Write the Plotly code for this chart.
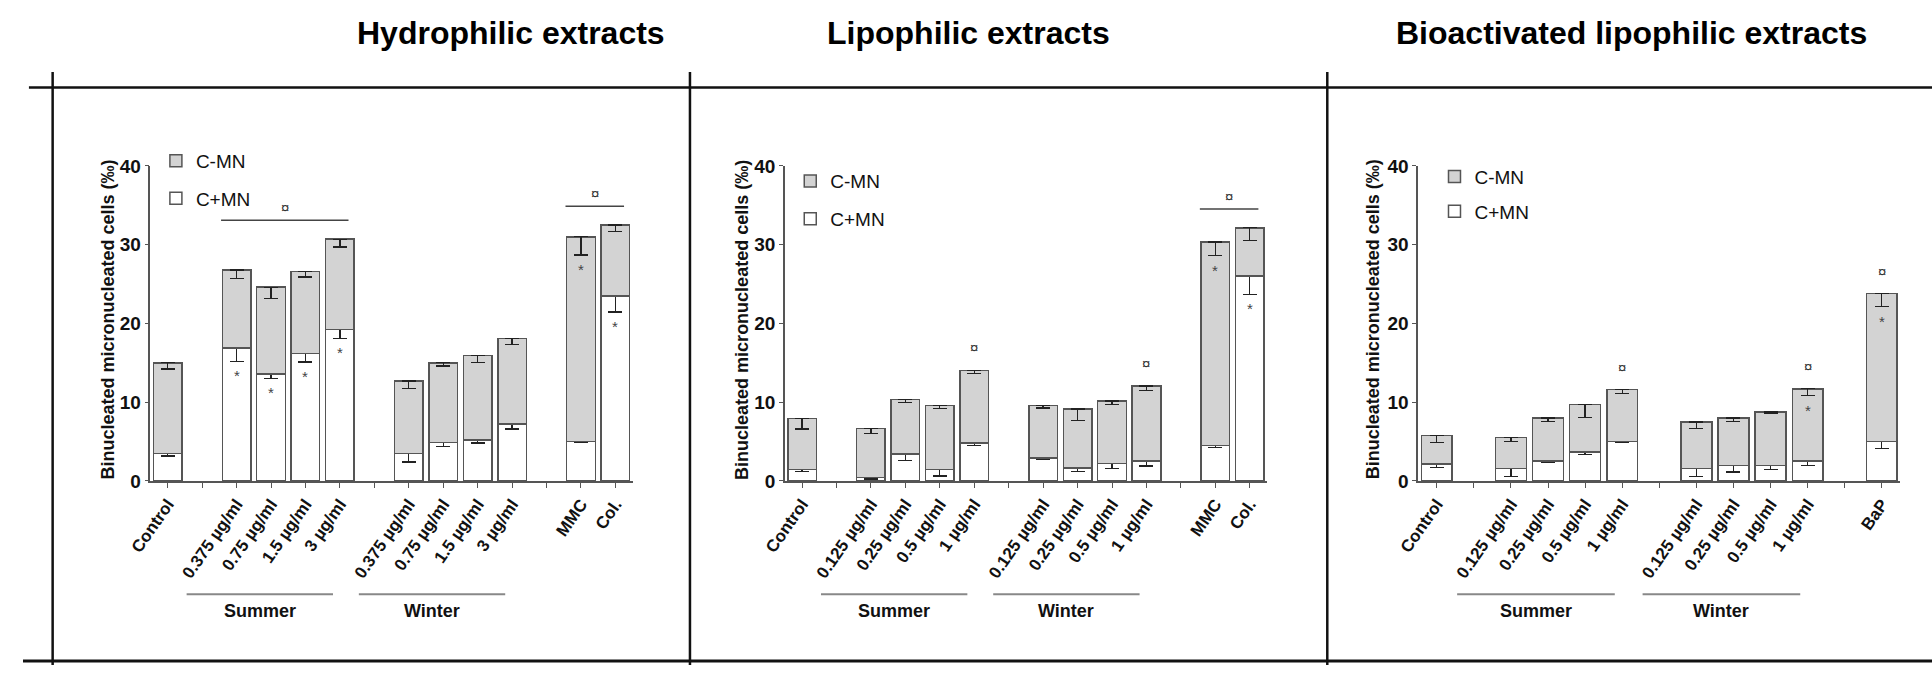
import plotly.graph_objects as go

FONT = "Liberation Sans, Arial, sans-serif"
W, H = 1932, 676

# ---------------- data ----------------
# Panel 1: Hydrophilic extracts
p1_control = ["Control"]
p1_summer = ["0.375 µg/ml", "0.75 µg/ml", "1.5 µg/ml", "3 µg/ml"]
p1_winter = ["0.375 µg/ml", "0.75 µg/ml", "1.5 µg/ml", "3 µg/ml"]
p1_positive = ["MMC", "Col."]
p1_cplus = [3.5, 16.9, 13.6, 16.2, 19.2, 3.5, 4.9, 5.2, 7.2, 5.0, 23.5]
p1_cplus_err = [0.33, 1.7, 0.55, 1.1, 1.1, 1.1, 0.5, 0.37, 0.6, 0.16, 2.05]
p1_cminus = [11.5, 9.9, 11.0, 10.4, 11.5, 9.2, 10.1, 10.7, 10.9, 26.0, 9.0]
p1_cminus_err = [0.8, 1.1, 1.45, 0.7, 1.0, 1.0, 0.4, 0.9, 0.8, 2.3, 0.8]
p1_star_plus = [0, 1, 1, 1, 1, 0, 0, 0, 0, 0, 1]
p1_star_total = [0, 0, 0, 0, 0, 0, 0, 0, 0, 1, 0]
p1_mark = [0, 0, 0, 0, 0, 0, 0, 0, 0, 0, 0]
p1_brackets = [(1, 4), (9, 10)]

# Panel 2: Lipophilic extracts
p2_control = ["Control"]
p2_summer = ["0.125 µg/ml", "0.25 µg/ml", "0.5 µg/ml", "1 µg/ml"]
p2_winter = ["0.125 µg/ml", "0.25 µg/ml", "0.5 µg/ml", "1 µg/ml"]
p2_positive = ["MMC", "Col."]
p2_cplus = [1.45, 0.4, 3.4, 1.45, 4.8, 2.9, 1.65, 2.2, 2.5, 4.5, 26.0]
p2_cplus_err = [0.29, 0.16, 0.82, 0.82, 0.29, 0.21, 0.49, 0.62, 0.62, 0.29, 2.3]
p2_cminus = [6.45, 6.25, 6.95, 8.15, 9.25, 6.65, 7.5, 7.95, 9.55, 25.85, 6.15]
p2_cminus_err = [1.3, 0.62, 0.37, 0.37, 0.45, 0.29, 1.44, 0.49, 0.53, 1.76, 1.64]
p2_star_plus = [0, 0, 0, 0, 0, 0, 0, 0, 0, 0, 1]
p2_star_total = [0, 0, 0, 0, 0, 0, 0, 0, 0, 1, 0]
p2_mark = [0, 0, 0, 0, 1, 0, 0, 0, 1, 0, 0]
p2_brackets = [(9, 10)]

# Panel 3: Bioactivated lipophilic extracts
p3_control = ["Control"]
p3_summer = ["0.125 µg/ml", "0.25 µg/ml", "0.5 µg/ml", "1 µg/ml"]
p3_winter = ["0.125 µg/ml", "0.25 µg/ml", "0.5 µg/ml", "1 µg/ml"]
p3_positive = ["BaP"]
p3_cplus = [2.15, 1.55, 2.5, 3.7, 5.0, 1.55, 1.95, 1.95, 2.5, 5.0]
p3_cplus_err = [0.41, 0.95, 0.2, 0.37, 0.16, 0.95, 0.82, 0.49, 0.53, 0.86]
p3_cminus = [3.6, 3.95, 5.5, 6.0, 6.6, 5.95, 6.05, 6.8, 9.2, 18.8]
p3_cminus_err = [0.9, 0.53, 0.49, 1.68, 0.53, 0.82, 0.49, 0.2, 0.86, 1.68]
p3_star_plus = [0, 0, 0, 0, 0, 0, 0, 0, 0, 0]
p3_star_total = [0, 0, 0, 0, 0, 0, 0, 0, 1, 1]
p3_mark = [0, 0, 0, 0, 1, 0, 0, 0, 1, 1]
p3_brackets = []

group_names = [None, "Summer", "Winter", None]
titles = ["Hydrophilic extracts", "Lipophilic extracts", "Bioactivated lipophilic extracts"]
y_title = "Binucleated micronucleated cells (‰)"
series_names = ["C+MN", "C-MN"]

# ---------------- styling ----------------
GREY = "#d3d3d3"
EDGE = "#555555"
ERR = "#222222"
AXC = "#555555"

panels = [
    dict(groups=[p1_control, p1_summer, p1_winter, p1_positive], cplus=p1_cplus, cplus_err=p1_cplus_err,
         cminus=p1_cminus, cminus_err=p1_cminus_err, star_plus=p1_star_plus, star_total=p1_star_total,
         mark=p1_mark, brackets=p1_brackets,
         xdom=(129, 617), ytitle_x=86, title_x=494, legend=(134.5, 136), ggap=10),
    dict(groups=[p2_control, p2_summer, p2_winter, p2_positive], cplus=p2_cplus, cplus_err=p2_cplus_err,
         cminus=p2_cminus, cminus_err=p2_cminus_err, star_plus=p2_star_plus, star_total=p2_star_total,
         mark=p2_mark, brackets=p2_brackets,
         xdom=(771, 1259), ytitle_x=727, title_x=957, legend=(776.5, 157), ggap=10),
    dict(groups=[p3_control, p3_summer, p3_winter, p3_positive], cplus=p3_cplus, cplus_err=p3_cplus_err,
         cminus=p3_cminus, cminus_err=p3_cminus_err, star_plus=p3_star_plus, star_total=p3_star_total,
         mark=p3_mark, brackets=p3_brackets,
         xdom=(1412, 1900), ytitle_x=1366, title_x=1628, legend=(1428.5, 152.5), ggap=7),
]

Y_TOP, Y_BOT = 161, 486


def px_x(v):
    return v / W


def px_y(v):
    return 1 - v / H


def layout_positions(groups):
    xs, tickvals, ticktext, ranges = [], [], [], []
    pos = 0
    for gi, g in enumerate(groups):
        if gi > 0:
            tickvals.append(pos)
            ticktext.append("")
            pos += 1
        start = pos
        for lab in g:
            xs.append(pos)
            tickvals.append(pos)
            ticktext.append(lab)
            pos += 1
        ranges.append((start, pos - 1))
    return xs, tickvals, ticktext, ranges, pos


fig = go.Figure()
annotations = []
shapes = []
layout_axes = {}

for k, p in enumerate(panels):
    sfx = "" if k == 0 else str(k + 1)
    xa, ya = "x" + sfx, "y" + sfx
    leg = "legend" + sfx
    xs, tickvals, ticktext, ranges, ncat = layout_positions(p["groups"])
    n = len(xs)
    totals = [a + b for a, b in zip(p["cplus"], p["cminus"])]

    fig.add_trace(go.Bar(
        x=xs, y=p["cplus"], name=series_names[0], xaxis=xa, yaxis=ya, legend=leg,
        legendgroup=f"plus{k}", legendrank=2,
        marker=dict(color="white", line=dict(color=EDGE, width=1.5)),
        error_y=dict(type="data", symmetric=False, array=[0] * n, arrayminus=p["cplus_err"],
                     color=ERR, thickness=1.3, width=7),
    ))
    fig.add_trace(go.Bar(
        x=xs, y=p["cminus"], name=series_names[1], xaxis=xa, yaxis=ya, legend=leg,
        legendgroup=f"minus{k}", legendrank=1,
        marker=dict(color=GREY, line=dict(color=EDGE, width=1.5)),
        error_y=dict(type="data", symmetric=False, array=[0] * n, arrayminus=p["cminus_err"],
                     color=ERR, thickness=1.3, width=7),
    ))

    # significance stars
    for i in range(n):
        if p["star_plus"][i]:
            annotations.append(dict(x=xs[i], y=p["cplus"][i] - p["cplus_err"][i], xref=xa, yref=ya,
                                    text="*", showarrow=False, yanchor="top", yshift=-4,
                                    font=dict(family=FONT, size=15, color="#444")))
        if p["star_total"][i]:
            annotations.append(dict(x=xs[i], y=totals[i] - p["cminus_err"][i], xref=xa, yref=ya,
                                    text="*", showarrow=False, yanchor="top", yshift=-4,
                                    font=dict(family=FONT, size=15, color="#444")))
        if p["mark"][i]:
            annotations.append(dict(x=xs[i], y=totals[i], xref=xa, yref=ya,
                                    text="¤", showarrow=False, yanchor="bottom", yshift=12,
                                    font=dict(family=FONT, size=15, color="#333")))

    # brackets with ¤
    for (a, b) in p["brackets"]:
        ly = max(totals[a:b + 1]) + 2.4
        x0, x1 = xs[a] - 0.45, xs[b] + 0.25
        shapes.append(dict(type="line", xref=xa, yref=ya, x0=x0, x1=x1, y0=ly, y1=ly,
                           line=dict(color="#444", width=1.5)))
        annotations.append(dict(x=(x0 + x1) / 2, y=ly, xref=xa, yref=ya, text="¤", showarrow=False,
                                yanchor="bottom", yshift=2, font=dict(family=FONT, size=15, color="#333")))

    # Summer / Winter group underlines
    for (g0, g1), gname in zip(ranges, group_names):
        if gname is None:
            continue
        x0, x1 = g0 - 1.45, g1 - 0.2
        shapes.append(dict(type="line", xref=xa, yref="paper", x0=x0, x1=x1,
                           y0=px_y(603), y1=px_y(603), line=dict(color="#888", width=2)))
        annotations.append(dict(x=(x0 + x1) / 2, y=px_y(620), xref=xa, yref="paper", text=gname,
                                showarrow=False, yanchor="middle",
                                font=dict(family=FONT, size=18, color="#111", weight="bold")))

    # axis title
    annotations.append(dict(x=px_x(p["ytitle_x"]), y=px_y((Y_TOP + Y_BOT) / 2 - 4), xref="paper", yref="paper",
                            text=y_title, textangle=-90, showarrow=False, xanchor="center", yanchor="middle",
                            font=dict(family=FONT, size=18, color="#111", weight="bold")))
    # panel title
    annotations.append(dict(x=px_x(p["title_x"]), y=px_y(24), xref="paper", yref="paper", text=titles[k],
                            showarrow=False, xanchor="center", yanchor="middle",
                            font=dict(family=FONT, size=32, color="#000", weight="bold")))

    layout_axes["xaxis" + sfx] = dict(
        domain=[px_x(p["xdom"][0]), px_x(p["xdom"][1])], anchor=ya, range=[-0.5, ncat - 0.5],
        tickmode="array", tickvals=tickvals, ticktext=ticktext, tickangle=-55,
        showline=True, linecolor=AXC, linewidth=1.5, ticks="outside", ticklen=5, tickwidth=1.2,
        tickcolor=AXC, showgrid=False, zeroline=False,
        tickfont=dict(family=FONT, size=17, color="#111", weight="bold"),
    )
    layout_axes["yaxis" + sfx] = dict(
        domain=[px_y(Y_BOT), px_y(Y_TOP)], anchor=xa, range=[0, 40], tickvals=[0, 10, 20, 30, 40],
        showline=True, linecolor=AXC, linewidth=1.5, ticks="outside", ticklen=4, tickwidth=1.2,
        tickcolor=AXC, showgrid=False, zeroline=False,
        tickfont=dict(family=FONT, size=19, color="#111", weight="bold"),
    )
    layout_axes[leg] = dict(
        x=px_x(p["legend"][0]), y=px_y(p["legend"][1]), xanchor="left", yanchor="top",
        traceorder="grouped", tracegroupgap=p["ggap"], bgcolor="rgba(0,0,0,0)",
        font=dict(family=FONT, size=19, color="#111"),
    )

# frame lines
shapes.append(dict(type="line", xref="paper", yref="paper", x0=px_x(6), x1=1, y0=px_y(80), y1=px_y(80),
                   line=dict(color="#111", width=2.5)))
shapes.append(dict(type="line", xref="paper", yref="paper", x0=0, x1=1, y0=px_y(672), y1=px_y(672),
                   line=dict(color="#111", width=3)))
for vx in (30, 675, 1320):
    shapes.append(dict(type="line", xref="paper", yref="paper", x0=px_x(vx), x1=px_x(vx),
                       y0=px_y(64), y1=0, line=dict(color="#111", width=2.5)))

fig.update_layout(
    width=W, height=H, margin=dict(l=0, r=0, t=0, b=0),
    paper_bgcolor="white", plot_bgcolor="rgba(0,0,0,0)",
    barmode="stack", bargap=0.17, showlegend=True,
    font=dict(family=FONT),
    annotations=annotations, shapes=shapes,
    **layout_axes,
)

fig.write_html("out.html", config={"displayModeBar": False},
               post_script="document.body.style.margin='0';document.body.style.overflow='hidden';")
